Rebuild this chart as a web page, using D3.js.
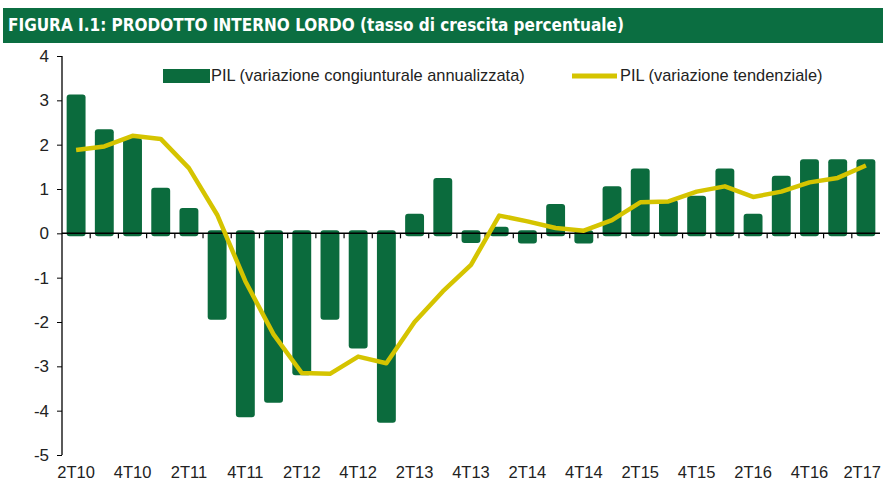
<!DOCTYPE html>
<html>
<head>
<meta charset="utf-8">
<script src="https://cdn.jsdelivr.net/npm/d3@7"></script>
<style>
  body { margin: 0; background: #fff; }
  text { font-family: "Liberation Sans", Arial, sans-serif; }
</style>
</head>
<body>
<div id="chart"></div>
<script>
var quarters = ['2T10','3T10','4T10','1T11','2T11','3T11','4T11','1T12','2T12','3T12','4T12','1T13','2T13','3T13','4T13',
  '1T14','2T14','3T14','4T14','1T15','2T15','3T15','4T15','1T16','2T16','3T16','4T16','1T17','2T17']

var congiunturale = [3.13, 2.35, 2.15, 1.03, 0.57, -1.95, -4.15, -3.82, -3.2, -1.95, -2.6, -4.27, 0.44, 1.25, -0.22,
  0.15, -0.23, 0.66, -0.23, 1.06, 1.46, 0.75, 0.85, 1.46, 0.44, 1.3, 1.67, 1.67, 1.67]

var tendenziale = [1.88, 1.96, 2.2, 2.13, 1.47, 0.42, -1.08, -2.28, -3.15, -3.17, -2.78, -2.93, -2.0, -1.31, -0.71,
  0.4, 0.27, 0.12, 0.06, 0.3, 0.7, 0.72, 0.94, 1.06, 0.82, 0.94, 1.15, 1.25, 1.53]

var yTicks = [4, 3, 2, 1, 0, -1, -2, -3, -4, -5]

var title = 'FIGURA I.1: PRODOTTO INTERNO LORDO (tasso di crescita percentuale)'
var legendBar = 'PIL (variazione congiunturale annualizzata)'
var legendLine = 'PIL (variazione tendenziale)'

var green = '#0b6b3d', yellow = '#d5c400'

var W = 883, H = 483
var svg = d3.select('#chart').append('svg').attr('width', W).attr('height', H)

// title band
svg.append('rect').attr('x', 3).attr('y', 8).attr('width', W - 3).attr('height', 35).attr('fill', '#0b6e41')
svg.append('text').attr('x', 8).attr('y', 31).text(title)
  .style('font-family', '"DejaVu Sans Condensed", "Liberation Sans Narrow", sans-serif')
  .style('font-weight', 'bold').style('font-size', '17px').attr('fill', '#fff')

var x = d3.scaleBand().domain(quarters).range([62, 880]).paddingInner(0.33).paddingOuter(0.165)
var xStep = d3.scaleBand().domain(quarters).range([62, 880])
var y = d3.scaleLinear().domain([-5, 4]).range([455, 56])

// y axis
var yAxis = svg.append('g').attr('transform', 'translate(62,0)')
  .call(d3.axisLeft(y).tickValues(yTicks).tickSize(5).tickFormat(d => String(d)))
yAxis.select('.domain').attr('d', 'M0,' + y(4) + 'V' + y(-5)).attr('stroke', '#000').attr('stroke-width', 1.3)
yAxis.selectAll('.tick line').attr('stroke', '#000')
yAxis.selectAll('.tick text').attr('x', -13).style('font-size', '17px').attr('fill', '#222')

// bars
svg.append('g').selectAll('rect').data(congiunturale).join('rect')
  .attr('x', (d, i) => x(quarters[i]))
  .attr('width', x.bandwidth())
  .attr('y', d => d >= 0 ? y(d) : y(0) - 3)
  .attr('height', d => Math.abs(y(d) - y(0)) + 3)
  .attr('rx', 3)
  .attr('fill', green)

// zero line with ticks between quarters
svg.append('line').attr('x1', 62).attr('x2', 880).attr('y1', y(0)).attr('y2', y(0))
  .attr('stroke', '#000').attr('stroke-width', 1.5)
svg.append('g').selectAll('line').data(quarters.slice(1)).join('line')
  .attr('x1', d => xStep(d)).attr('x2', d => xStep(d))
  .attr('y1', y(0)).attr('y2', y(0) + 5)
  .attr('stroke', '#000').attr('stroke-width', 1.2)

// x labels every two quarters (last one kept inside the frame)
var lastQ = quarters[quarters.length - 1]
svg.append('g').selectAll('text').data(quarters.filter((d, i) => i % 2 === 0)).join('text')
  .attr('x', d => d === lastQ ? W - 2 : xStep(d) + xStep.bandwidth() / 2)
  .attr('y', 478)
  .attr('text-anchor', d => d === lastQ ? 'end' : 'middle')
  .style('font-size', '16.5px').attr('fill', '#222')
  .text(d => d)

// line
var line = d3.line()
  .x((d, i) => xStep(quarters[i]) + xStep.bandwidth() / 2)
  .y(d => y(d))
svg.append('path').datum(tendenziale)
  .attr('d', line)
  .attr('fill', 'none').attr('stroke', yellow).attr('stroke-width', 4.5)
  .attr('stroke-linejoin', 'round')

// legend
svg.append('rect').attr('x', 163).attr('y', 69).attr('width', 47).attr('height', 14).attr('fill', green)
svg.append('text').attr('x', 211).attr('y', 81).text(legendBar).style('font-size', '16.4px').attr('fill', '#222')
svg.append('line').attr('x1', 572).attr('x2', 617).attr('y1', 76).attr('y2', 76)
  .attr('stroke', yellow).attr('stroke-width', 5)
svg.append('text').attr('x', 620).attr('y', 81).text(legendLine).style('font-size', '16.4px').attr('fill', '#222')
</script>
</body>
</html>
